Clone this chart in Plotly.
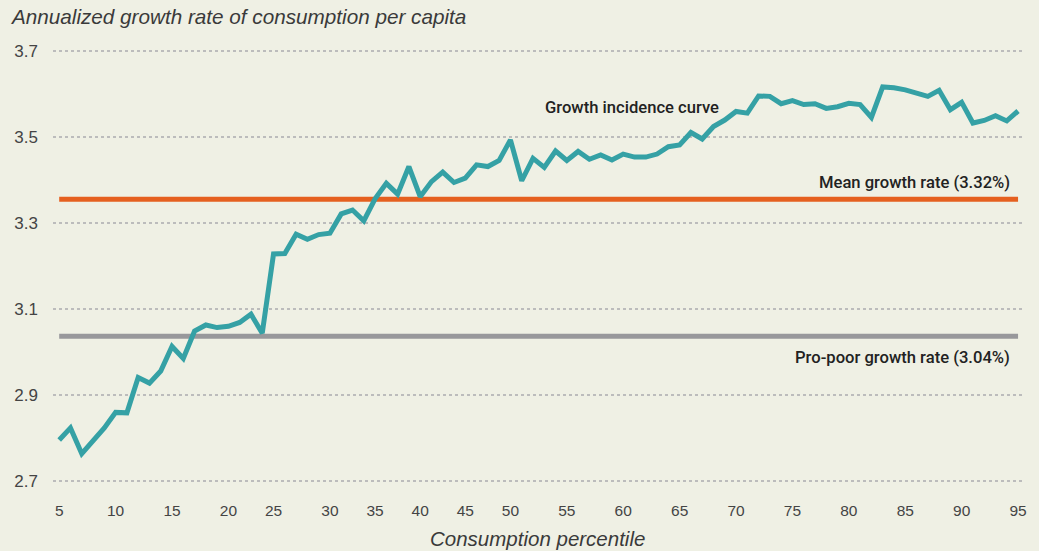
import plotly.graph_objects as go

# percentiles shown on the category axis (a few are skipped in the source chart)
percentiles = [5, 6, 7, 8, 9, 10, 11, 12, 13, 14, 15, 16, 17, 18, 19, 20,
               21, 22, 23, 25, 26, 27, 28, 29, 30,
               31, 32, 33, 35, 36, 37, 38, 40, 41, 42, 43, 45, 46, 47, 48, 50,
               51, 52, 53, 54, 55, 56, 57, 58, 59, 60, 61, 62, 63, 64, 65,
               66, 67, 68, 69, 70, 71, 72, 73, 74, 75, 76, 77, 78, 79, 80,
               81, 82, 83, 84, 85, 86, 87, 88, 89, 90, 91, 92, 93, 94, 95]

growth = [2.796, 2.824, 2.764, 2.793, 2.824, 2.860, 2.859, 2.941, 2.928, 2.956,
          3.013, 2.985, 3.049, 3.063, 3.057, 3.060, 3.069, 3.088, 3.044,
          3.228, 3.229, 3.274, 3.262, 3.273, 3.276, 3.321, 3.330, 3.305, 3.356,
          3.392, 3.367, 3.431, 3.361, 3.396, 3.418, 3.394, 3.404, 3.435, 3.431,
          3.445, 3.493, 3.398, 3.450, 3.429, 3.467, 3.445, 3.466, 3.448, 3.458,
          3.446, 3.460, 3.453, 3.453, 3.460, 3.477, 3.481, 3.510, 3.495, 3.524,
          3.539, 3.559, 3.555, 3.595, 3.594, 3.577, 3.584, 3.575, 3.577, 3.566,
          3.570, 3.578, 3.575, 3.545, 3.616, 3.614, 3.609, 3.602, 3.594, 3.608,
          3.563, 3.580, 3.532, 3.538, 3.549, 3.537, 3.560]

mean_rate = 3.355      # where the mean line sits in the picture
pro_poor_rate = 3.037

x_ticks = [5, 10, 15, 20, 25, 30, 35, 40, 45, 50, 55, 60, 65, 70, 75, 80, 85, 90, 95]
y_ticks = [2.7, 2.9, 3.1, 3.3, 3.5, 3.7]

cats = [str(p) for p in percentiles]
FONT = "Liberation Sans, Arial, sans-serif"

fig = go.Figure()
# flat reference lines first, curve on top
fig.add_trace(go.Scatter(x=[cats[0], cats[-1]], y=[pro_poor_rate] * 2, mode="lines",
                         line=dict(color="#98989b", width=5), hoverinfo="skip"))
fig.add_trace(go.Scatter(x=[cats[0], cats[-1]], y=[mean_rate] * 2, mode="lines",
                         line=dict(color="#e5601f", width=5), hoverinfo="skip"))
fig.add_trace(go.Scatter(x=cats, y=growth, mode="lines",
                         line=dict(color="#35a1a5", width=5)))

fig.update_layout(
    width=1039, height=551,
    paper_bgcolor="#eff0e4", plot_bgcolor="#eff0e4",
    showlegend=False,
    margin=dict(l=53, r=14, t=49, b=68),
    font=dict(family=FONT, color="#333333"),
    title=dict(text="Annualized growth rate of consumption per capita",
               x=12 / 1039, xref="container", xanchor="left",
               y=1 - 17 / 551, yref="container", yanchor="middle",
               font=dict(size=20.7, style="italic", color="#3a3a3a")),
)

fig.update_xaxes(type="category", categoryorder="array", categoryarray=cats,
                 range=[-0.55, len(cats) - 1 + 0.35],
                 tickmode="array", tickvals=[str(t) for t in x_ticks],
                 ticktext=[str(t) for t in x_ticks],
                 showgrid=False, zeroline=False, showline=False,
                 ticks="", ticklabelstandoff=16,
                 tickfont=dict(size=15.5, color="#444444"))
fig.update_yaxes(range=[2.696, 3.704], tickmode="array", tickvals=y_ticks,
                 ticktext=[f"{t:.1f}" for t in y_ticks],
                 showgrid=True, gridcolor="#bcbcbc", gridwidth=1.5, griddash="3px,3px",
                 zeroline=False, showline=False, ticks="", ticklabelstandoff=14,
                 tickfont=dict(size=17, color="#444444"))

notes = [
    ("Growth incidence curve", 58.65, 3.567),
    ("Mean growth rate (3.32%)", 84.5, 3.395),
    ("Pro-poor growth rate (3.04%)", 84.5, 2.988),
]
for text, x, y in notes:
    fig.add_annotation(text=text, x=x, y=y, xref="x", yref="y",
                       xanchor="right", yanchor="middle", showarrow=False,
                       font=dict(size=16.6, color="#222222", family="Roboto", weight=500))

fig.add_annotation(text="Consumption percentile", x=0.5, xref="paper",
                   y=-(536 - 481) / 430, yref="paper", yanchor="middle",
                   showarrow=False,
                   font=dict(size=20.5, style="italic", color="#3a3a3a"))

fig.write_html("out.html", config={"displayModeBar": False},
               post_script="document.body.style.margin='0';")
